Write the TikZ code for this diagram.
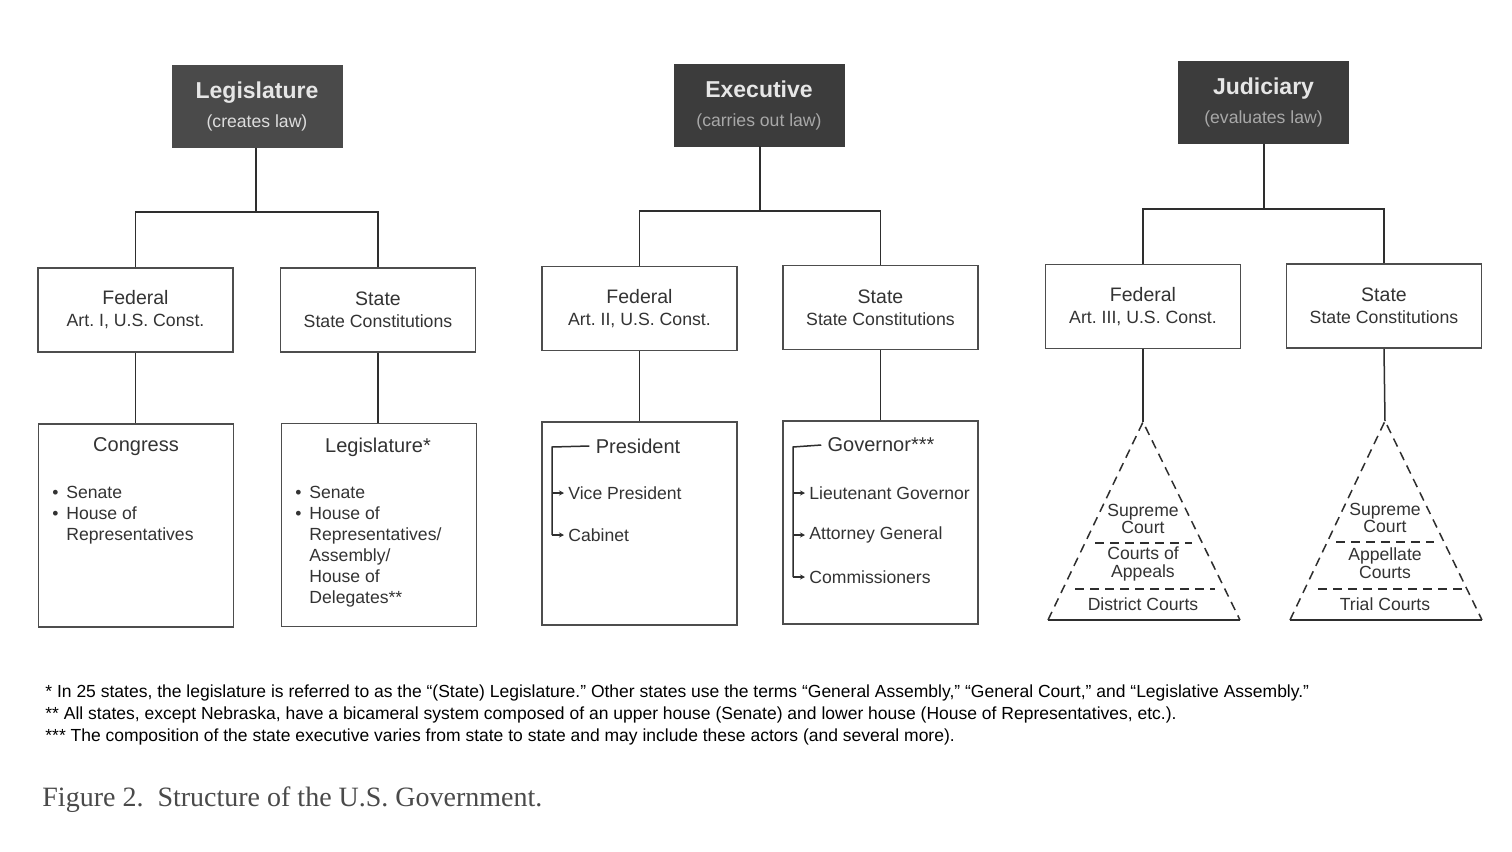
\documentclass[tikz,border=0pt]{standalone}
\usepackage{fontspec}
\setmainfont{Liberation Sans}
\newfontfamily\capfont{Liberation Serif}
\usetikzlibrary{arrows.meta}
\frenchspacing
\definecolor{boxdark}{HTML}{3C3C3C}
\definecolor{boxleg}{HTML}{4A4A4A}
\definecolor{ink}{HTML}{2E2E2E}
\definecolor{frame}{HTML}{4D4D4D}
\definecolor{subtxt}{HTML}{A8A8A8}
\definecolor{titletxt}{HTML}{E6E6E6}
\definecolor{captxt}{HTML}{4A4A4A}
\definecolor{bodytxt}{HTML}{333333}
\newcommand\mysubt[1]{{\fontsize{8.8}{14.5}\selectfont\mdseries\color{subtxt}#1}}
\newcommand\mysmall[1]{{\fontsize{8.85}{11}\selectfont #1}}
\newcommand\mybul{\makebox[7pt][l]{\textbullet}}
\newcommand\mynob{\makebox[7pt][l]{}}
\begin{document}
\begin{tikzpicture}[x=0.5pt,y=-0.5pt,
  conn/.style={draw=ink, line width=0.75pt},
  topbox/.style={fill=boxdark, draw=boxdark, minimum width=85pt, minimum height=41pt, inner sep=0pt, align=center, text=titletxt, font=\fontsize{11.5}{14.5}\selectfont\bfseries},
  midbox/.style={draw=frame, line width=0.8pt, minimum width=97.5pt, minimum height=42pt, inner sep=0pt, align=center, text=bodytxt, font=\fontsize{9.75}{11}\selectfont},
  lowbox/.style={draw=frame, line width=0.8pt, minimum width=97.5pt, minimum height=101.5pt, inner sep=0pt},
  headtxt/.style={inner sep=1pt, text=bodytxt, font=\fontsize{10}{12}\selectfont},
  itemtxt/.style={inner sep=2pt, text=bodytxt, font=\fontsize{8.8}{10.5}\selectfont},
  listtxt/.style={inner sep=0pt, align=left, anchor=north west, text=bodytxt, font=\fontsize{8.8}{10.5}\selectfont},
  tritxt/.style={inner sep=0pt, align=center, text=bodytxt, font=\fontsize{8.8}{8.5}\selectfont},
  tick/.style={conn, -{Stealth[length=2.5pt,width=2.5pt]}},
  tridash/.style={draw=ink, line width=0.75pt, dash pattern=on 4.5pt off 3pt},
  fntxt/.style={inner sep=0pt, anchor=west, text=black, font=\fontsize{8.75}{10}\selectfont}
]
\fill[white] (0,0) rectangle (1512,852);
\useasboundingbox (0,0) rectangle (1512,852);

% ---- top level
\node[topbox, fill=boxleg, draw=boxleg] (legtop) at (257,106.5) {Legislature\\\mysubt{\color{titletxt!85!subtxt}(creates law)}};
\node[topbox] (extop) at (759,105) {Executive\\\mysubt{(carries out law)}};
\node[topbox] (judtop) at (1263.5,102.5) {Judiciary\\\mysubt{(evaluates law)}};

% ---- second level
\node[midbox] (legfed) at (135.5,310) {Federal\\\mysmall{Art. I, U.S. Const.}};
\node[midbox] (legst) at (378,310) {State\\\mysmall{State Constitutions}};
\node[midbox] (exfed) at (639.5,308.5) {Federal\\\mysmall{Art. II, U.S. Const.}};
\node[midbox] (exst) at (880.5,307.5) {State\\\mysmall{State Constitutions}};
\node[midbox] (judfed) at (1143,306.5) {Federal\\\mysmall{Art. III, U.S. Const.}};
\node[midbox] (judst) at (1384,306) {State\\\mysmall{State Constitutions}};

% ---- branch connectors
\coordinate (legbar) at (256,212);
\coordinate (exbar) at (760,211);
\coordinate (judbar) at (1264,209);
\draw[conn] (legtop.south -| legbar) -- (legbar);
\draw[conn] (legfed.north) |- (legbar) -| (legst.north);
\draw[conn] (extop.south -| exbar) -- (exbar);
\draw[conn] (exfed.north) |- (exbar) -| (exst.north);
\draw[conn] (judtop.south -| judbar) -- (judbar);
\draw[conn] (judfed.north) |- (judbar) -| (judst.north);

% ---- third level boxes
\node[lowbox] (cong) at (136,525.5) {};
\node[lowbox] (legl) at (379,525) {};
\node[lowbox] (exlow) at (639.5,523.5) {};
\node[lowbox] (govlow) at (880.5,522.5) {};

\draw[conn] (legfed.south) -- (legfed.south |- cong.north);
\draw[conn] (legst.south) -- (legst.south |- legl.north);
\draw[conn] (exfed.south) -- (exfed.south |- exlow.north);
\draw[conn] (exst.south) -- (exst.south |- govlow.north);

% Congress
\node[headtxt] (congT) at (136,447) {Congress};
\node[listtxt] (congL) at (52,486) {\mybul Senate\\\mybul House of\\\mynob Representatives};
% State legislature
\node[headtxt] (leglT) at (378,447) {Legislature*};
\node[listtxt] (leglL) at (295,486) {\mybul Senate\\\mybul House of\\\mynob Representatives/\\\mynob Assembly/\\\mynob House of\\\mynob Delegates**};

% President
\node[headtxt] (pres) at (638,446) {President};
\node[itemtxt, anchor=west] (vp) at (564,493) {Vice President};
\node[itemtxt, anchor=west] (cab) at (564,535) {Cabinet};
\coordinate (exbr) at (552,447);
\draw[conn] ([xshift=-2pt]pres.west) -- (exbr) -- (exbr |- cab.west);
\draw[tick] (exbr |- vp.west) -- (vp.west);
\draw[tick] (exbr |- cab.west) -- (cab.west);

% Governor
\node[headtxt] (gov) at (881,445) {Governor***};
\node[itemtxt, anchor=west] (ltgov) at (805,493) {Lieutenant Governor};
\node[itemtxt, anchor=west] (ag) at (805,535) {Attorney General};
\node[itemtxt, anchor=west] (comm) at (805,577) {Commissioners};
\coordinate (govbr) at (793,447);
\draw[conn] ([xshift=-2pt]gov.west) -- (govbr) -- (govbr |- comm.west);
\draw[tick] (govbr |- ltgov.west) -- (ltgov.west);
\draw[tick] (govbr |- ag.west) -- (ag.west);
\draw[tick] (govbr |- comm.west) -- (comm.west);

% ---- court pyramids
\coordinate (t1a) at (1143,422);
\coordinate (t1l) at (1048,620);
\coordinate (t1r) at (1240,620);
\draw[conn] (judfed.south) -- (t1a);
\draw[tridash] (t1l) -- (t1a) -- (t1r);
\draw[conn] (t1l) -- (t1r);
\coordinate (t1d1l) at (1095,543); \coordinate (t1d1r) at (1192,543);
\coordinate (t1d2l) at (1075,589); \coordinate (t1d2r) at (1215,589);
\draw[tridash] (t1d1l) -- (t1d1r);
\draw[tridash] (t1d2l) -- (t1d2r);
\node[tritxt] (t1x) at (1143,519) {Supreme\\Court};
\node[tritxt, font=\fontsize{8.8}{9}\selectfont] (t1y) at (1143,564) {Courts of\\Appeals};
\node[tritxt] (t1z) at (1143,604) {District Courts};

\coordinate (t2a) at (1385,421);
\coordinate (t2l) at (1290,620);
\coordinate (t2r) at (1482,620);
\draw[conn] (judst.south) -- (t2a);
\draw[tridash] (t2l) -- (t2a) -- (t2r);
\draw[conn] (t2l) -- (t2r);
\coordinate (t2d1l) at (1336,542); \coordinate (t2d1r) at (1434,542);
\coordinate (t2d2l) at (1318,589); \coordinate (t2d2r) at (1466,589);
\draw[tridash] (t2d1l) -- (t2d1r);
\draw[tridash] (t2d2l) -- (t2d2r);
\node[tritxt] (t2x) at (1385,518) {Supreme\\Court};
\node[tritxt, font=\fontsize{8.8}{9}\selectfont] (t2y) at (1385,563.5) {Appellate\\Courts};
\node[tritxt] (t2z) at (1385,604) {Trial Courts};

% ---- footnotes
\node[fntxt] (fn1) at (45,693) {* In 25 states, the legislature is referred to as the “(State) Legislature.” Other states use the terms “General Assembly,” “General Court,” and “Legislative Assembly.”};
\node[fntxt] (fn2) at (45,715) {** All states, except Nebraska, have a bicameral system composed of an upper house (Senate) and lower house (House of Representatives, etc.).};
\node[fntxt] (fn3) at (45,737) {*** The composition of the state executive varies from state to state and may include these actors (and several more).};

% ---- caption
\node[inner sep=0pt, anchor=west, text=captxt, font=\capfont\fontsize{14}{16}\selectfont] (cap) at (42,800) {Figure 2.\ \ Structure of the U.S. Government.};
\end{tikzpicture}
\end{document}
